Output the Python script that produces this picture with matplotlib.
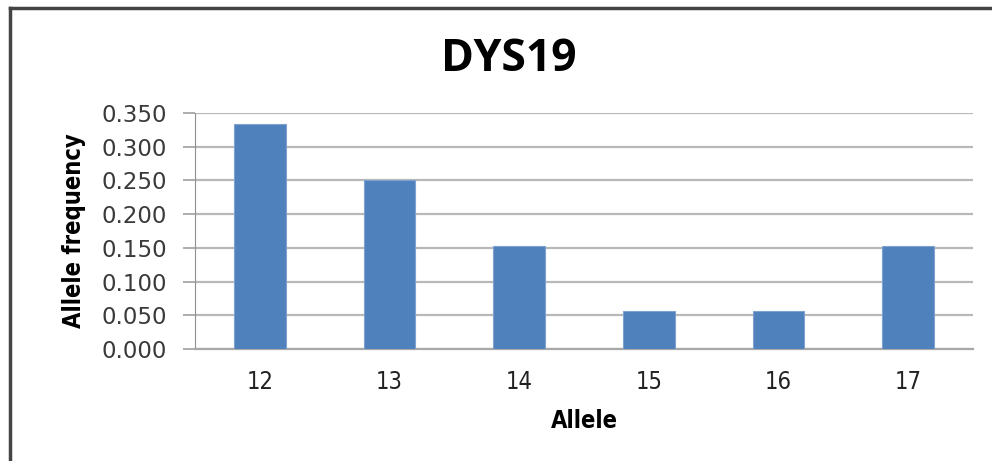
import matplotlib
matplotlib.use("Agg")
import matplotlib.pyplot as plt
from matplotlib.lines import Line2D
import numpy as np

alleles = ["12", "13", "14", "15", "16", "17"]
freq = [0.333, 0.250, 0.152, 0.056, 0.056, 0.152]
yticks = [0.0, 0.05, 0.10, 0.15, 0.20, 0.25, 0.30, 0.35]

fig = plt.figure(figsize=(9.92, 4.61), dpi=100)
ax = fig.add_axes([0.1966, 0.243, 0.7843, 0.512])

x = np.arange(len(alleles))
ax.bar(x, freq, width=0.4, color="#4F81BD", edgecolor="#7FA3D0", linewidth=0.8, zorder=3)

ax.set_xlim(-0.5, len(alleles) - 0.5)
ax.set_ylim(0, 0.35)
ax.set_yticks(yticks)
ax.set_yticklabels(["%.3f" % v for v in yticks], fontsize=16.5, color="#3a3a3a",
                   family=["DejaVu Sans"])
ax.set_xticks(x)
ax.set_xticklabels(alleles, fontsize=17, color="#222222",
                   family=["DejaVu Sans"], fontstretch="condensed")

ax.yaxis.grid(True, color="#b8b8b8", linewidth=1.6, zorder=0)
ax.set_axisbelow(True)
for s in ["top", "right"]:
    ax.spines[s].set_visible(False)
ax.spines["left"].set_color("#909090")
ax.spines["bottom"].set_color("#a8a8a8")
ax.spines["bottom"].set_linewidth(1.6)
ax.tick_params(axis="y", length=9, color="#a0a0a0", width=1.2, pad=11)
ax.tick_params(axis="x", length=0, pad=15)

ax.set_ylabel("Allele frequency", fontsize=17, fontweight="bold",
              family=["DejaVu Sans"], fontstretch="condensed", labelpad=11)
ax.set_xlabel("Allele", fontsize=17, fontweight="bold",
              family=["DejaVu Sans"], fontstretch="condensed", labelpad=11)

fig.text(0.513, 0.872, "DYS19", ha="center", va="center", fontsize=32,
         fontweight="bold", family=["Open Sans", "DejaVu Sans"])

# frame around the chart
fig.add_artist(Line2D([10 / 992, 10 / 992], [0, 1 - 8 / 461], transform=fig.transFigure,
                      color="#444444", linewidth=2.5))
fig.add_artist(Line2D([10 / 992, 1], [1 - 8 / 461, 1 - 8 / 461], transform=fig.transFigure,
                      color="#444444", linewidth=2.5))

fig.savefig("out.png", dpi=100)
